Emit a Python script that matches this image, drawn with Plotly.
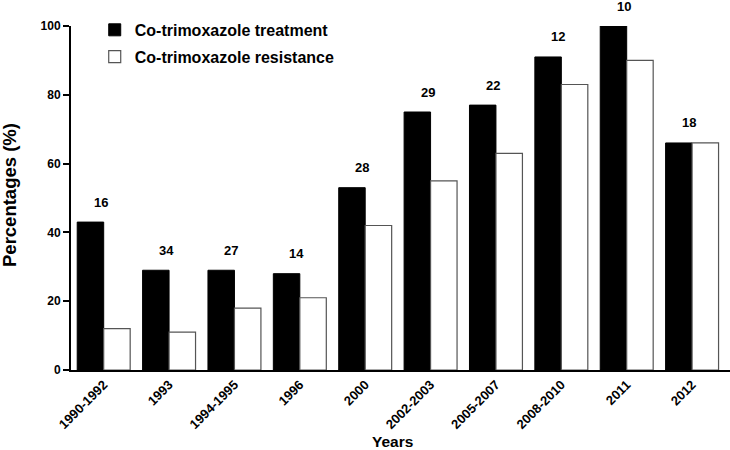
import plotly.graph_objects as go

categories = ["1990-1992", "1993", "1994-1995", "1996", "2000",
              "2002-2003", "2005-2007", "2008-2010", "2011", "2012"]
treatment = [43, 29, 29, 28, 53, 75, 77, 91, 100, 66]
resistance = [12, 11, 18, 21, 42, 55, 63, 83, 90, 66]
counts = [16, 34, 27, 14, 28, 29, 22, 12, 10, 18]

FONT = "Liberation Sans, Arial, sans-serif"

fig = go.Figure()
fig.add_trace(go.Bar(
    x=categories, y=treatment, name="Co-trimoxazole treatment",
    legendgroup="a",
    marker=dict(color="black", line=dict(color="black", width=1)),
))
fig.add_trace(go.Bar(
    x=categories, y=resistance, name="Co-trimoxazole resistance",
    legendgroup="b",
    marker=dict(color="white", line=dict(color="#555555", width=1.2)),
))

for i, (v, n) in enumerate(zip(treatment, counts)):
    fig.add_annotation(
        x=i, y=v, text=str(n), showarrow=False,
        xshift=-3, yshift=20, yanchor="middle",
        font=dict(family=FONT, size=13, color="black", weight="bold"),
    )

# axis titles
fig.add_annotation(
    text="Years", xref="paper", yref="paper", x=0.5, y=0,
    xanchor="center", yanchor="middle", xshift=-8, yshift=-71,
    showarrow=False,
    font=dict(family=FONT, size=15.5, color="black", weight="bold"),
)
fig.add_annotation(
    text="Percentages (%)", xref="paper", yref="paper", x=0, y=0.5,
    xanchor="center", yanchor="middle", xshift=-62, yshift=3,
    textangle=-90, showarrow=False,
    font=dict(family=FONT, size=18.5, color="black", weight="bold"),
)

fig.update_layout(
    width=730, height=450,
    margin=dict(l=71, r=0, t=26, b=80),
    paper_bgcolor="white", plot_bgcolor="white",
    barmode="group", bargap=0.19, bargroupgap=0,
    font=dict(family=FONT, color="black"),
    showlegend=True,
    legend=dict(
        x=0.036, y=1.038, xanchor="left", yanchor="top",
        bgcolor="rgba(0,0,0,0)",
        font=dict(family=FONT, size=16, color="black", weight="bold"),
        itemwidth=30, tracegroupgap=3,
    ),
    xaxis=dict(
        type="category", range=[-0.5, len(categories) - 0.42],
        categoryorder="array", categoryarray=categories,
        automargin=False,
        showline=True, linecolor="black", linewidth=2,
        ticks="", tickangle=-45,
        tickfont=dict(family=FONT, size=13, color="black", weight="bold"),
        showgrid=False, zeroline=False,
    ),
    yaxis=dict(
        range=[0, 100], tickvals=[0, 20, 40, 60, 80, 100],
        automargin=False,
        showline=True, linecolor="black", linewidth=2,
        ticks="outside", ticklen=6, tickwidth=2, tickcolor="black",
        tickfont=dict(family=FONT, size=12, color="black", weight="bold"),
        showgrid=False, zeroline=False,
    ),
)

fig.write_html("out.html", config={"displayModeBar": False},
               post_script="document.body.style.margin='0';")
